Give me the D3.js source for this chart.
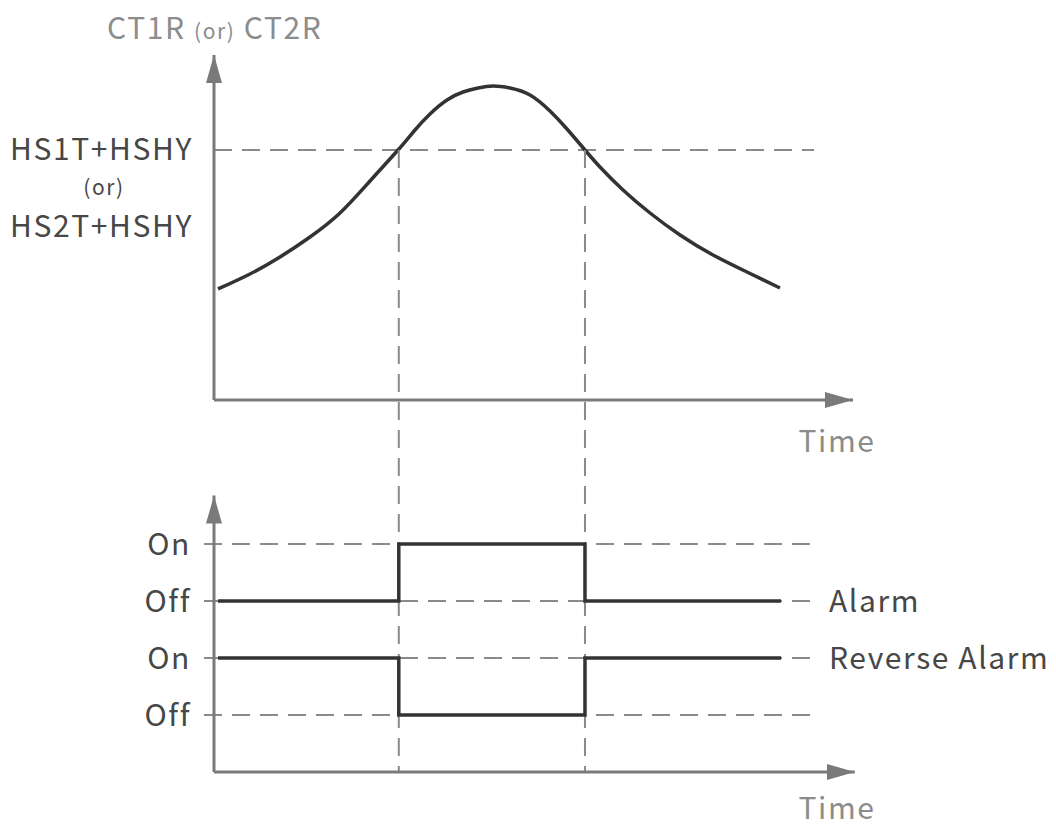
<!DOCTYPE html>
<html>
<head>
<meta charset="utf-8">
<script src="https://cdn.jsdelivr.net/npm/d3@7"></script>
<style>
  html, body { margin: 0; padding: 0; background: #fff; }
  svg { display: block; }
  text { font-family: "Noto Sans CJK SC", "Noto Sans", sans-serif; letter-spacing: 1.6px; }
</style>
</head>
<body>
<svg id="chart" width="1056" height="828"></svg>
<script>
// Measured temperature (CT1R / CT2R) over time
const curveTime  = [0.67, 6, 11, 16, 21, 26, 30.67, 33.5, 36, 38.83, 41.5, 44, 46.5, 49.33, 52.67, 56, 58.83, 61.83, 64.33, 68.17, 72.67, 77.67, 83.17, 88.83, 94.33];
const curveValue = [32.65, 37.06, 42.06, 47.94, 55, 64.41, 73.53, 79.41, 84.12, 88.24, 90.59, 91.76, 92.35, 91.76, 89.71, 85, 79.71, 73.53, 68.53, 61.76, 55, 48.53, 42.65, 37.65, 32.94];

// Alarm threshold (HS1T+HSHY or HS2T+HSHY) and the times it is crossed
const threshold = 73.53;
const crossTimes = [30.8, 61.83];

// Relay states: step times and levels (row index on the lower chart)
const stepTime      = [0.67, 30.8, 61.83, 94.5];
const alarmLevel    = [3, 4, 3, 3];   // Off, On, Off, Off
const reverseLevel  = [2, 1, 2, 2];   // On, Off, On, On

// Row labels on the lower chart
const rowLevels = [4, 3, 2, 1];
const rowLabels = ["On", "Off", "On", "Off"];
const signalNames = ["Alarm", "Reverse Alarm"];
const signalRows  = [3, 2];

const svg = d3.select("#chart");

const x = d3.scaleLinear().domain([0, 100]).range([214, 814]);
const y = d3.scaleLinear().domain([0, 100]).range([400, 60]);
const yLow = d3.scaleLinear().domain([0, 5]).range([772, 487]);

const axisColor = "#7a7a7a";
const dashColor = "#8a8a8a";
const inkColor  = "#333";
const labelColor = "#474747";
const grayText  = "#8c8c8c";
const dash = "18,10";
const fs = 30;
const fsSmall = 21;

// Arrowhead marker
const defs = svg.append("defs");
defs.append("marker")
  .attr("id", "arrow")
  .attr("viewBox", "0 0 28 16")
  .attr("refX", 28).attr("refY", 8)
  .attr("markerWidth", 28).attr("markerHeight", 16)
  .attr("markerUnits", "userSpaceOnUse")
  .attr("orient", "auto")
  .append("path")
  .attr("d", "M0,0 L28,8 L0,16 Z")
  .attr("fill", axisColor);

// ---------- Upper chart ----------
const upper = svg.append("g");

// threshold dashed line
upper.append("line")
  .attr("x1", x(0)).attr("x2", x(100))
  .attr("y1", y(threshold)).attr("y2", y(threshold))
  .attr("stroke", dashColor).attr("stroke-width", 2).attr("stroke-dasharray", dash);

// crossing verticals spanning both charts
crossTimes.forEach(t => {
  svg.append("line")
    .attr("x1", x(t)).attr("x2", x(t))
    .attr("y1", y(threshold)).attr("y2", yLow(0))
    .attr("stroke", dashColor).attr("stroke-width", 2).attr("stroke-dasharray", dash);
});

// axes with arrows
upper.append("path")
  .attr("d", `M${x(0)},${y(0)} L${x(0)},${y(101.5)}`)
  .attr("stroke", axisColor).attr("stroke-width", 3).attr("fill", "none")
  .attr("marker-end", "url(#arrow)");
upper.append("path")
  .attr("d", `M${x(0)},${y(0)} L${x(106.5)},${y(0)}`)
  .attr("stroke", axisColor).attr("stroke-width", 3).attr("fill", "none")
  .attr("marker-end", "url(#arrow)");

// temperature curve
const curvePts = curveTime.map((t, i) => [t, curveValue[i]]);
upper.append("path")
  .datum(curvePts)
  .attr("d", d3.line().x(d => x(d[0])).y(d => y(d[1])).curve(d3.curveNatural))
  .attr("fill", "none").attr("stroke", inkColor).attr("stroke-width", 3.5);

// labels
const yTitle = upper.append("text")
  .attr("x", 107).attr("y", 28).attr("dy", "0.35em")
  .attr("fill", grayText).attr("font-size", fs);
yTitle.append("tspan").text("CT1R ");
yTitle.append("tspan").attr("font-size", fsSmall).text("(or)");
yTitle.append("tspan").text(" CT2R");

upper.append("text").attr("x", 193).attr("y", y(threshold)).attr("dy", "0.35em")
  .attr("text-anchor", "end").attr("fill", labelColor).attr("font-size", fs).text("HS1T+HSHY");
upper.append("text").attr("x", 104).attr("y", 188).attr("dy", "0.35em")
  .attr("text-anchor", "middle").attr("fill", labelColor).attr("font-size", fsSmall).text("(or)");
upper.append("text").attr("x", 193).attr("y", 226).attr("dy", "0.35em")
  .attr("text-anchor", "end").attr("fill", labelColor).attr("font-size", fs).text("HS2T+HSHY");

upper.append("text").attr("x", 837).attr("y", 441).attr("dy", "0.35em")
  .attr("text-anchor", "middle").attr("fill", grayText).attr("font-size", fs).text("Time");

// ---------- Lower chart ----------
const lower = svg.append("g");

// row dashed guides
rowLevels.forEach(v => {
  lower.append("line")
    .attr("x1", 204).attr("x2", x(100))
    .attr("y1", yLow(v)).attr("y2", yLow(v))
    .attr("stroke", dashColor).attr("stroke-width", 2).attr("stroke-dasharray", dash);
});

lower.append("path")
  .attr("d", `M${x(0)},${yLow(0)} L${x(0)},${yLow(4.85)}`)
  .attr("stroke", axisColor).attr("stroke-width", 3).attr("fill", "none")
  .attr("marker-end", "url(#arrow)");
lower.append("path")
  .attr("d", `M${x(0)},${yLow(0)} L${x(106.8)},${yLow(0)}`)
  .attr("stroke", axisColor).attr("stroke-width", 3).attr("fill", "none")
  .attr("marker-end", "url(#arrow)");

const stepLine = d3.line().x(d => x(d[0])).y(d => yLow(d[1])).curve(d3.curveStepAfter);
[alarmLevel, reverseLevel].forEach(levels => {
  lower.append("path")
    .datum(stepTime.map((t, i) => [t, levels[i]]))
    .attr("d", stepLine)
    .attr("fill", "none").attr("stroke", inkColor).attr("stroke-width", 3.5);
});

rowLevels.forEach((v, i) => {
  lower.append("text").attr("x", 191).attr("y", yLow(v)).attr("dy", "0.35em")
    .attr("text-anchor", "end").attr("fill", labelColor).attr("font-size", fs).text(rowLabels[i]);
});

signalNames.forEach((name, i) => {
  lower.append("text").attr("x", 829).attr("y", yLow(signalRows[i])).attr("dy", "0.35em")
    .attr("fill", labelColor).attr("font-size", fs).text(name);
});

lower.append("text").attr("x", 837).attr("y", 808).attr("dy", "0.35em")
  .attr("text-anchor", "middle").attr("fill", grayText).attr("font-size", fs).text("Time");
</script>
</body>
</html>
